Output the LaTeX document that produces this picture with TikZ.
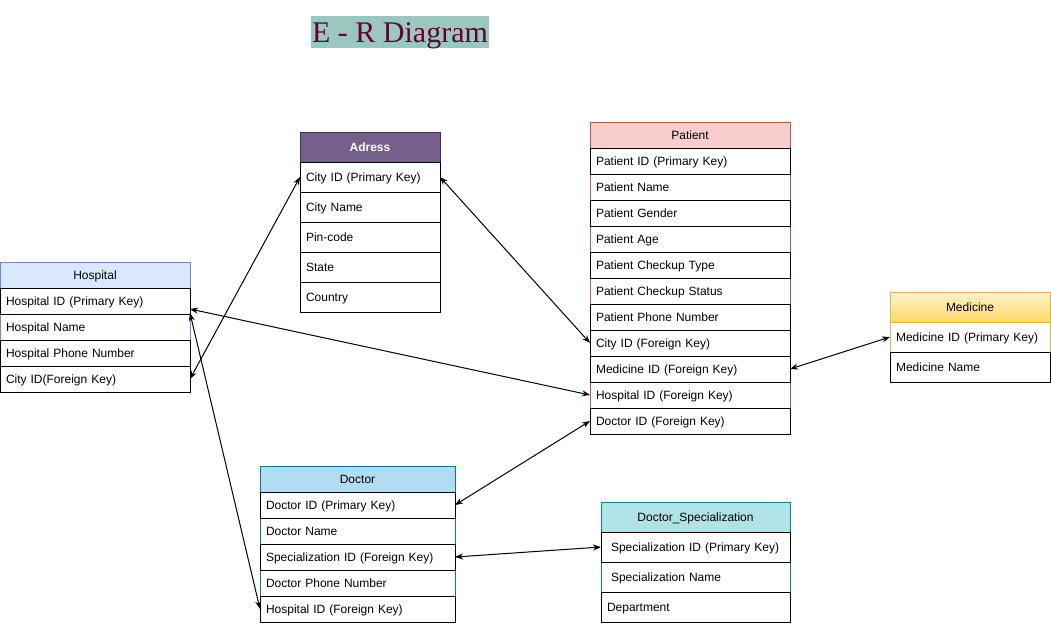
\documentclass[tikz,border=0pt]{standalone}
\usepackage{fontspec}
\setmainfont{Liberation Sans}
\newfontfamily\titlefont{Liberation Serif}
\usetikzlibrary{positioning, arrows.meta, backgrounds}

\definecolor{hospfill}{HTML}{DAE8FC}
\definecolor{hospline}{HTML}{6C8EBF}
\definecolor{adrfill}{HTML}{76608A}
\definecolor{adrline}{HTML}{432D57}
\definecolor{patfill}{HTML}{F8CECC}
\definecolor{patline}{HTML}{B85450}
\definecolor{medtop}{HTML}{FFF2CC}
\definecolor{medbot}{HTML}{FFD966}
\definecolor{medline}{HTML}{D6B656}
\definecolor{docfill}{HTML}{B1DDF0}
\definecolor{docline}{HTML}{10739E}
\definecolor{specfill}{HTML}{B0E3E6}
\definecolor{specline}{HTML}{0E8088}
\definecolor{titlefill}{HTML}{9AC7BF}
\definecolor{titletext}{HTML}{660033}

\tikzset{
    tab/.style 2 args={every node/.append style={text width=#1, minimum height=#2}},
    head/.style={draw=#1, anchor=north west, align=center},
    field/.style={draw=black, align=left},
    plain/.style={draw=none, align=left},
    link/.style={{Stealth[length=8pt,width=6pt]}-{Stealth[length=8pt,width=6pt]}, line width=1pt}
}

\begin{document}
\begin{tikzpicture}[x=1pt, y=-1pt, line width=1pt, font=\fontsize{12}{14}\selectfont,
    every node/.style={inner xsep=6pt, inner ysep=0pt, outer sep=0pt, text height=10.5pt, text depth=1pt}]
    \useasboundingbox (0,0) rectangle (1051,625);

    % title
    \node[fill=titlefill, text=titletext, inner xsep=1pt, minimum height=32pt, text height=23pt, text depth=3pt,
        font=\titlefont\fontsize{30}{30}\selectfont] (title) at (400,32) {E - R Diagram};

    % Hospital
    \begin{scope}[tab={178pt}{26pt}]
        \node[head=hospline, fill=hospfill] (hosp) at (0,262) {Hospital};
        \node[field, below=0pt of hosp] (hosp1) {Hospital ID (Primary Key)};
        \node[plain, below=0pt of hosp1] (hosp2) {Hospital Name};
        \node[field, below=0pt of hosp2] (hosp3) {Hospital Phone Number};
        \node[field, below=0pt of hosp3] (hosp4) {City ID(Foreign Key)};
    \end{scope}

    % Adress
    \begin{scope}[tab={128pt}{30pt}]
        \node[head=adrline, fill=adrfill, text=white, font=\bfseries\fontsize{12}{14}\selectfont] (adr) at (300,132) {Adress};
        \node[field, below=0pt of adr] (adr1) {City ID (Primary Key)};
        \node[field, below=0pt of adr1] (adr2) {City Name};
        \node[field, below=0pt of adr2] (adr3) {Pin-code};
        \node[field, below=0pt of adr3] (adr4) {State};
        \node[field, below=0pt of adr4] (adr5) {Country};
    \end{scope}

    % Patient
    \begin{scope}[tab={188pt}{26pt}]
        \node[head=patline, fill=patfill] (pat) at (590,122) {Patient};
        \node[field, below=0pt of pat] (pat1) {Patient ID (Primary Key)};
        \node[plain, below=0pt of pat1] (pat2) {Patient Name};
        \node[field, below=0pt of pat2] (pat3) {Patient Gender};
        \node[plain, below=0pt of pat3] (pat4) {Patient Age};
        \node[field, below=0pt of pat4] (pat5) {Patient Checkup Type};
        \node[plain, below=0pt of pat5] (pat6) {Patient Checkup Status};
        \node[field, below=0pt of pat6] (pat7) {Patient Phone Number};
        \node[field, below=0pt of pat7] (pat8) {City ID (Foreign Key)};
        \node[field, below=0pt of pat8] (pat9) {Medicine ID (Foreign Key)};
        \node[plain, below=0pt of pat9] (pat10) {Hospital ID (Foreign Key)};
        \node[field, below=0pt of pat10] (pat11) {Doctor ID (Foreign Key)};
    \end{scope}

    % Medicine
    \begin{scope}[tab={148pt}{30pt}]
        \node[head=medline, top color=medtop, bottom color=medbot] (med) at (890,292) {Medicine};
        \node[plain, below=0pt of med] (med1) {Medicine ID (Primary Key)};
        \node[field, below=0pt of med1] (med2) {Medicine Name};
    \end{scope}

    % Doctor
    \begin{scope}[tab={183pt}{26pt}]
        \node[head=docline, fill=docfill] (doc) at (260,466) {Doctor};
        \node[field, below=0pt of doc] (doc1) {Doctor ID (Primary Key)};
        \node[plain, below=0pt of doc1] (doc2) {Doctor Name};
        \node[field, below=0pt of doc2] (doc3) {Specialization ID (Foreign Key)};
        \node[plain, below=0pt of doc3] (doc4) {Doctor Phone Number};
        \node[field, below=0pt of doc4] (doc5) {Hospital ID (Foreign Key)};
    \end{scope}

    % Doctor_Specialization
    \begin{scope}[tab={177pt}{30pt}]
        \node[head=specline, fill=specfill] (spec) at (601,502) {Doctor\_Specialization};
        \node[field, below=0pt of spec] (spec1) {\hspace{4pt}Specialization ID (Primary Key)};
        \node[plain, below=0pt of spec1] (spec2) {\hspace{4pt}Specialization Name};
        \node[field, below=0pt of spec2] (spec3) {Department};
    \end{scope}

    % table outlines behind the rows
    \begin{scope}[on background layer]
        \draw[hospline, fill=white] (hosp.north west) rectangle (hosp4.south east);
        \draw[patline, fill=white] (pat.north west) rectangle (pat11.south east);
        \draw[medline, fill=white] (med.north west) rectangle (med2.south east);
        \draw[docline, fill=white] (doc.north west) rectangle (doc5.south east);
        \draw[specline, fill=white] (spec.north west) rectangle (spec3.south east);
    \end{scope}

    % relations
    \draw[link] (hosp4.east) -- (adr1.west);
    \draw[link] (adr1.east) -- (pat8.west);
    \draw[link] ([yshift=5pt]hosp1.south east) -- (pat10.west);
    \draw[link] ([yshift=1pt]hosp1.south east) -- (doc5.west);
    \draw[link] (pat11.west) -- (doc1.east);
    \draw[link] (pat9.east) -- (med1.west);
    \draw[link] (doc3.east) -- (spec1.west);
\end{tikzpicture}
\end{document}
